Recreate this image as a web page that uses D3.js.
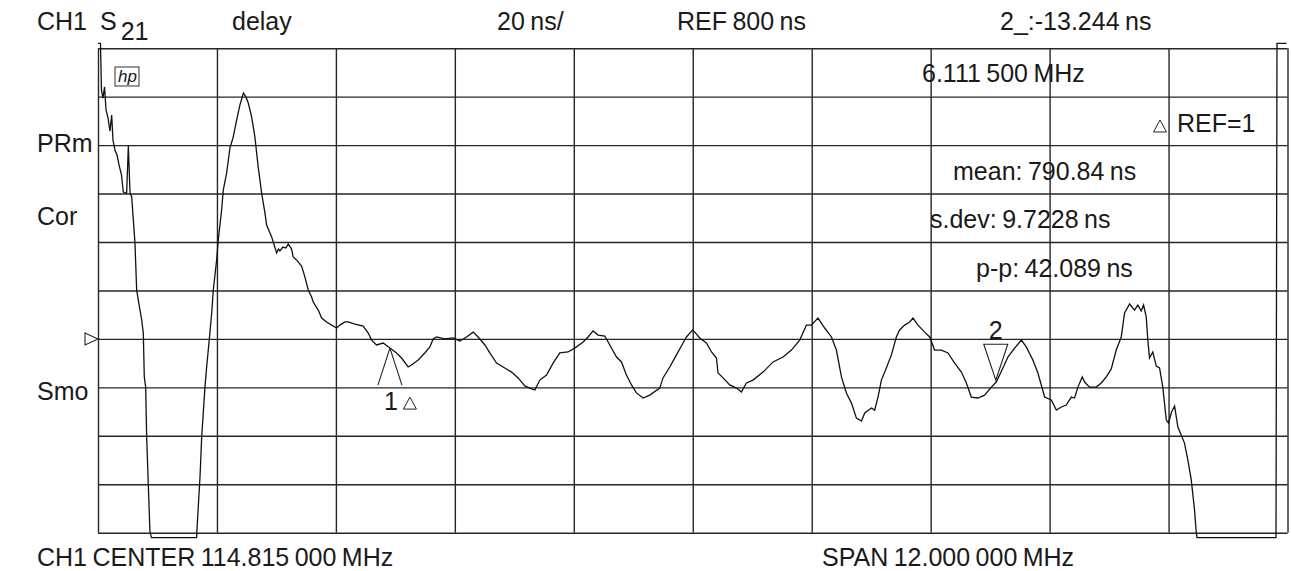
<!DOCTYPE html>
<html>
<head>
<meta charset="utf-8">
<script src="https://cdn.jsdelivr.net/npm/d3@7"></script>
<style>
body { margin: 0; background: #fff; }
text { font-family: "Liberation Sans", Arial, sans-serif; fill: #1a1a1a; }
</style>
</head>
<body>
<svg id="chart" width="1291" height="571"></svg>
<script>
// sweep: frequency (MHz) and group delay (ns)
var freqMHz = [
108.815,108.840,108.850,108.865,108.881,108.896,108.916,108.936,108.953,108.966,
108.986,109.007,109.027,109.052,109.070,109.104,109.121,109.138,109.155,109.188,
109.205,109.221,109.256,109.272,109.282,109.296,109.306,109.322,109.339,109.354,
109.810,109.813,109.844,109.861,109.894,109.911,109.937,109.962,109.978,110.012,
110.028,110.062,110.079,110.113,110.146,110.179,110.214,110.247,110.282,110.307,
110.331,110.365,110.398,110.431,110.466,110.499,110.516,110.567,110.617,110.635,
110.650,110.680,110.711,110.734,110.768,110.784,110.818,110.869,110.902,110.936,
110.970,110.986,111.037,111.071,111.121,111.172,111.222,111.255,111.306,111.339,
111.407,111.490,111.541,111.575,111.625,111.692,111.760,111.827,111.877,111.944,
111.978,112.045,112.112,112.163,112.196,112.230,112.314,112.398,112.465,112.533,
112.600,112.650,112.718,112.768,112.836,112.902,112.987,113.053,113.121,113.171,
113.222,113.272,113.340,113.406,113.474,113.557,113.625,113.709,113.759,113.810,
113.860,113.928,113.978,114.046,114.096,114.146,114.197,114.247,114.314,114.381,
114.482,114.515,114.583,114.651,114.717,114.752,114.785,114.815,114.886,114.953,
115.004,115.054,115.070,115.121,115.188,115.256,115.306,115.356,115.423,115.524,
115.625,115.726,115.810,115.894,115.962,116.012,116.078,116.146,116.214,116.264,
116.315,116.365,116.416,116.466,116.517,116.550,116.618,116.650,116.684,116.718,
116.768,116.819,116.869,116.902,116.953,117.003,117.037,117.087,117.155,117.205,
117.255,117.323,117.390,117.457,117.525,117.575,117.625,117.692,117.759,117.827,
117.877,117.944,117.994,118.062,118.130,118.180,118.246,118.297,118.365,118.432,
118.483,118.533,118.583,118.634,118.667,118.700,118.745,118.768,118.818,118.886,
118.936,118.987,119.037,119.087,119.138,119.171,119.222,119.272,119.305,119.339,
119.363,119.390,119.406,119.423,119.456,119.491,119.524,119.557,119.592,119.615,
119.645,119.676,119.709,119.776,119.810,119.844,119.877,119.894,119.902,120.699,
120.709,120.805];

var delayNs = [
922,922,902.7,899.4,904.0,894.5,891.2,885.8,892.4,882.1,
878.0,875.9,871.8,867.7,860.6,860.2,879.6,860.2,858.6,839.6,
820.2,816.1,807.8,802.4,784.3,780.1,759.5,740.5,720.3,718,
718,721.1,743.0,759.5,780.1,788.4,799.5,810.7,820.2,832.6,
840.8,853.2,861.5,868.5,878.8,883.3,890.4,896.6,901.5,899.9,
897.4,891.6,883.3,871.0,860.2,852.0,847.0,842.1,835.5,837.1,
836.3,837.9,837.5,839.2,837.1,833.8,832.6,830.1,825.6,820.2,
817.3,815.2,811.9,808.6,807.0,805.7,804.5,805.7,807.0,807.0,
806.1,805.3,802.4,799.5,797.5,798.3,796.2,794.2,792.1,788.4,
789.2,791.3,794.2,796.7,800.0,800.8,800.0,800.4,799.1,800.8,
802.8,800.8,797.5,794.2,790.0,788.4,786.3,783.9,780.6,779.7,
778.9,783.0,785.1,790.0,794.2,794.6,796.2,798.7,800.8,803.3,
801.6,801.2,797.5,792.5,790.5,785.1,781.0,777.7,775.6,776.8,
779.7,783.9,788.4,793.4,798.3,800.8,802.4,803.7,800.4,798.3,
794.6,792.1,785.9,783.9,781.0,779.7,778.1,781.8,783.0,786.3,
790.5,792.5,795.4,799.5,805.7,805.7,808.6,804.5,800.8,795.4,
784.3,777.7,773.5,767.3,766.1,769.4,771.5,770.6,776.0,783.0,
788.0,793.4,800.8,803.7,805.7,807.0,808.6,805.7,802.8,800.8,
795.4,795.4,794.2,790.0,786.3,781.8,776.0,775.6,776.8,780.1,
782.2,788.0,792.5,796.2,799.5,796.7,791.3,785.9,776.0,774.8,
770.6,771.9,772.7,776.0,775.6,780.1,784.3,782.2,780.1,780.1,
781.8,784.3,787.6,795.4,800.8,810.7,814.4,811.9,814.0,811.5,
814.0,809.0,799.5,792.1,794.6,788.8,788.0,780.1,766.5,765.3,
769.8,772.3,763.6,757.0,750.0,741.8,729.4,720.3,718,718,
922,922];

var markerFreq = [111.760, 117.872];
var markerDelay = [796.2, 782.96];

var centerMHz = 114.815, spanMHz = 12;
var refNs = 800, perDivNs = 20;
var xTicks = d3.range(11).map(function(i) { return centerMHz - spanMHz/2 + i*spanMHz/10; });
var yTicks = d3.range(11).map(function(i) { return refNs - 4*perDivNs + i*perDivNs; });

var plotL = 98, plotR = 1287.5, plotT = 48.2, plotB = 532.7;

var svg = d3.select("#chart");

var x = d3.scaleLinear().domain([xTicks[0], xTicks[10]]).range([plotL, plotR]);
var y = d3.scaleLinear().domain([yTicks[0], yTicks[10]]).range([plotB, plotT]);

// grid through the axes, no labels
svg.append("g")
  .attr("transform", "translate(0," + plotB + ")")
  .call(d3.axisBottom(x).tickValues(xTicks).tickSize(-(plotB - plotT)).tickFormat(""));
svg.append("g")
  .attr("transform", "translate(" + plotL + ",0)")
  .call(d3.axisLeft(y).tickValues(yTicks).tickSize(-(plotR - plotL)).tickFormat(""));
svg.selectAll(".domain").remove();
svg.selectAll(".tick line").attr("stroke", "#262626").attr("stroke-width", 1.4);

// trace
var pts = freqMHz.map(function(f, i) { return [f, delayNs[i]]; });
var line = d3.line().x(function(d) { return x(d[0]); }).y(function(d) { return y(d[1]); });
svg.append("path")
  .datum(pts)
  .attr("d", line)
  .attr("fill", "none")
  .attr("stroke", "#111")
  .attr("stroke-width", 1.3)
  .attr("stroke-linejoin", "miter");

// markers
var mx1 = x(markerFreq[0]), my1 = y(markerDelay[0]);
svg.append("path")
  .attr("d", "M" + mx1 + "," + my1 + "L" + (mx1 - 12) + "," + (my1 + 37) + "M" + mx1 + "," + my1 + "L" + (mx1 + 12) + "," + (my1 + 37))
  .attr("fill", "none").attr("stroke", "#222").attr("stroke-width", 1.1);
svg.append("text").attr("x", mx1 - 6).attr("y", my1 + 62).attr("font-size", 25).text("1");

var mx2 = x(markerFreq[1]), my2 = y(markerDelay[1]);
svg.append("path")
  .attr("d", "M" + mx2 + "," + my2 + "L" + (mx2 - 12) + "," + (my2 - 36) + "L" + (mx2 + 12) + "," + (my2 - 36) + "Z")
  .attr("fill", "none").attr("stroke", "#222").attr("stroke-width", 1.1);
svg.append("text").attr("x", mx2).attr("y", my2 - 41).attr("font-size", 25).attr("text-anchor", "middle").text("2");

function smallTri(cx, by) {
  svg.append("path")
    .attr("d", "M" + (cx - 6.5) + "," + by + "L" + cx + "," + (by - 12) + "L" + (cx + 6.5) + "," + by + "Z")
    .attr("fill", "none").attr("stroke", "#222").attr("stroke-width", 1);
}
smallTri(mx1 + 20, my1 + 61);
smallTri(1160, 132);

// reference position
var ry = y(refNs);
svg.append("path")
  .attr("d", "M" + (plotL - 13) + "," + (ry - 6) + "L" + plotL + "," + ry + "L" + (plotL - 13) + "," + (ry + 6) + "Z")
  .attr("fill", "none").attr("stroke", "#222").attr("stroke-width", 1.1);

// hp logo
svg.append("rect").attr("x", 115).attr("y", 67).attr("width", 24).attr("height", 19)
  .attr("fill", "none").attr("stroke", "#333").attr("stroke-width", 1);
svg.append("text").attr("x", 118).attr("y", 82).attr("font-size", 17)
  .attr("font-style", "italic").text("hp");

// annotation text
function label(tx, ty, s, anchor) {
  return svg.append("text").attr("x", tx).attr("y", ty).attr("font-size", 25)
    .attr("word-spacing", -1.5)
    .attr("text-anchor", anchor || "start").text(s);
}
label(37, 30, "CH1");
var s21 = label(100, 30, "S");
s21.append("tspan").attr("dx", 4).attr("dy", 10).text("21");
label(232, 30, "delay");
label(497, 30, "20 ns/");
label(677, 30, "REF 800 ns");
label(1000, 30, "2_:-13.244 ns");
label(922, 82, "6.111 500 MHz");
label(1177, 132, "REF=1");
label(953, 180, "mean: 790.84 ns");
label(930, 228, "s.dev: 9.7228 ns");
label(976, 277, "p-p: 42.089 ns");
label(37, 152, "PRm");
label(37, 225, "Cor");
label(37, 400, "Smo");
label(37, 566, "CH1 CENTER 114.815 000 MHz");
label(822, 566, "SPAN 12.000 000 MHz");
</script>
</body>
</html>
